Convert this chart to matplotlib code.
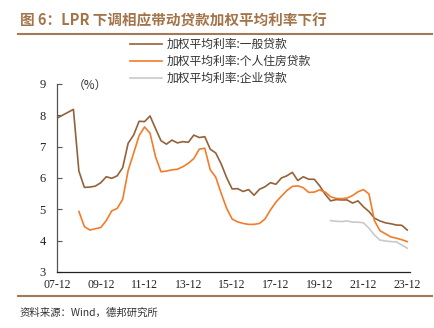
import matplotlib
matplotlib.use("Agg")
import matplotlib.pyplot as plt
from matplotlib.lines import Line2D
import numpy as np

plt.rcParams['font.family'] = ['Noto Sans CJK SC', 'DejaVu Sans']

# quarterly data
general_dates = ["2007-12", "2008-09", "2008-12",
                 "2009-03", "2009-06", "2009-09", "2009-12",
                 "2010-03", "2010-06", "2010-09", "2010-12",
                 "2011-03", "2011-06", "2011-09", "2011-12",
                 "2012-03", "2012-06", "2012-09", "2012-12",
                 "2013-03", "2013-06", "2013-09", "2013-12",
                 "2014-03", "2014-06", "2014-09", "2014-12",
                 "2015-03", "2015-06", "2015-09", "2015-12",
                 "2016-03", "2016-06", "2016-09", "2016-12",
                 "2017-03", "2017-06", "2017-09", "2017-12",
                 "2018-03", "2018-06", "2018-09", "2018-12",
                 "2019-03", "2019-06", "2019-09", "2019-12",
                 "2020-03", "2020-06", "2020-09", "2020-12",
                 "2021-03", "2021-06", "2021-09", "2021-12",
                 "2022-03", "2022-06", "2022-09", "2022-12",
                 "2023-03", "2023-06", "2023-09", "2023-12"]
general_rate = [7.91, 8.19, 6.22,
                5.70, 5.71, 5.74, 5.85,
                6.04, 5.99, 6.07, 6.33,
                7.11, 7.37, 7.81, 7.80,
                7.98, 7.58, 7.19, 7.08,
                7.21, 7.12, 7.16, 7.14,
                7.37, 7.29, 7.32, 6.92,
                6.80, 6.45, 6.01, 5.65,
                5.66, 5.57, 5.63, 5.45,
                5.64, 5.72, 5.85, 5.80,
                6.00, 6.07, 6.18, 5.92,
                6.04, 5.96, 5.96, 5.75,
                5.48, 5.27, 5.31, 5.30,
                5.30, 5.20, 5.27, 5.08,
                4.93, 4.72, 4.63, 4.57,
                4.54, 4.50, 4.49, 4.34]

mortgage_dates = general_dates[2:]
mortgage_rate = [4.93,
                 4.45, 4.34, 4.38, 4.42,
                 4.64, 4.95, 5.03, 5.32,
                 6.24, 6.79, 7.35, 7.63,
                 7.43, 6.68, 6.20, 6.22,
                 6.26, 6.28, 6.36, 6.47,
                 6.62, 6.92, 6.95, 6.26,
                 6.03, 5.51, 5.03, 4.69,
                 4.60, 4.55, 4.52, 4.52,
                 4.55, 4.69, 4.98, 5.23,
                 5.42, 5.60, 5.73, 5.75,
                 5.69, 5.54, 5.55, 5.62,
                 5.55, 5.40, 5.35, 5.34,
                 5.36, 5.44, 5.56, 5.63,
                 5.49, 4.64, 4.32, 4.22,
                 4.12, 4.08, 4.03, 3.97]

corp_dates = general_dates[-15:]
corp_rate = [4.64, 4.62, 4.61,
             4.63, 4.59, 4.59, 4.57,
             4.40, 4.18, 4.02, 3.99,
             3.97, 3.96, 3.86, 3.76]

tick_labels = ["07-12", "09-12", "11-12", "13-12", "15-12",
               "17-12", "19-12", "21-12", "23-12"]


def to_q(d):
    # quarters since 2007-12
    y, m = d.split("-")
    return (int(y) - 2007) * 4 + (int(m) - 12) / 3


fig = plt.figure(figsize=(4.34, 3.28), dpi=100)
ax = fig.add_axes([57/434, 1-272/328, 353/434, 188/328])

ax.plot([to_q(d) for d in general_dates], general_rate, color="#946238", lw=1.2,
        label="加权平均利率:一般贷款")
ax.plot([to_q(d) for d in mortgage_dates], mortgage_rate, color="#f27c2a", lw=1.2,
        label="加权平均利率:个人住房贷款")
ax.plot([to_q(d) for d in corp_dates], corp_rate, color="#c9c9c9", lw=1.2,
        label="加权平均利率:企业贷款")

ax.set_xlim(0, 64.5)
ax.set_ylim(3, 9)
ax.set_xticks([to_q("20" + t) for t in tick_labels])
ax.set_xticklabels(tick_labels, family="Liberation Serif", fontsize=8.5, color="#222222")
ax.set_yticks(range(3, 10))
ax.set_yticklabels([str(v) for v in range(3, 10)], family="Liberation Serif",
                   fontsize=9, color="#222222")
ax.tick_params(axis="x", length=0, pad=5)
ax.tick_params(axis="y", direction="in", length=3.5, width=0.8, color="#555555", pad=8)
for s in ["top", "right"]:
    ax.spines[s].set_visible(False)
ax.spines["left"].set_color("#555555")
ax.spines["bottom"].set_color("#222222")
ax.spines["left"].set_linewidth(0.9)
ax.spines["bottom"].set_linewidth(0.9)

ax.text(0.045, 0.995, "（%）", transform=ax.transAxes, fontsize=8.5, va="center", ha="left",
        color="#333333")

leg = ax.legend(loc="upper left", bbox_to_anchor=(130/434, 1-38/328),
                bbox_transform=fig.transFigure, frameon=False, fontsize=8.5,
                handlelength=2.7, handletextpad=0.4, labelspacing=0.35,
                borderpad=0, borderaxespad=0)
for t in leg.get_texts():
    t.set_color("#333333")

fig.text(20/434, 1-20/328, "图 6：LPR 下调相应带动贷款加权平均利率下行", fontsize=10.5,
         fontweight="bold", color="#a37449", va="center", ha="left")
fig.add_artist(Line2D([18/434, 432/434], [1-34/328, 1-34/328], color="#a37a55", lw=1.5))
fig.add_artist(Line2D([18/434, 432/434], [1-296/328, 1-296/328], color="#a37a55", lw=1.5))
fig.text(20/434, 1-313/328, "资料来源：Wind，德邦研究所", fontsize=7.5, color="#333333",
         va="center", ha="left")

fig.savefig("out.png", dpi=100)
